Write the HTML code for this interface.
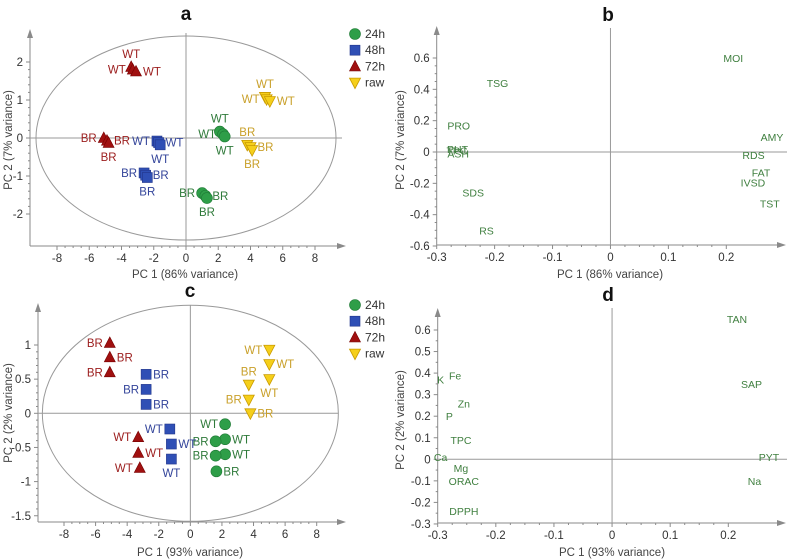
<!DOCTYPE html>
<html><head><meta charset="utf-8"><style>
body{margin:0;background:#fff;}
svg{display:block;font-family:"Liberation Sans",sans-serif;}
</style></head><body>
<svg id="fig" width="787" height="560"></svg>
<script>
// ---- Panel a: scores ----
const aGroups = ["24h","24h","24h","24h","24h","24h","48h","48h","48h","48h","48h","48h","72h","72h","72h","72h","72h","72h","raw","raw","raw","raw","raw","raw"];
const aX = [2.1,2.3,2.4,1.0,1.2,1.3,-1.8,-1.7,-1.6,-2.6,-2.5,-2.4,-3.4,-3.3,-3.1,-5.1,-4.9,-4.8,4.9,5.0,5.2,3.8,4.0,4.1];
const aY = [0.17,0.1,0.04,-1.45,-1.52,-1.58,-0.08,-0.12,-0.18,-0.92,-0.98,-1.04,1.87,1.8,1.75,0.0,-0.07,-0.13,1.08,1.02,0.97,-0.18,-0.24,-0.32];
const aLab = ["WT","WT","WT","BR","BR","BR","WT","WT","WT","BR","BR","BR","WT","WT","WT","BR","BR","BR","WT","WT","WT","BR","BR","BR"];
const aSide = ["t","l","b","l","r","b","l","r","b","l","r","b","t","l","r","l","r","b","t","l","r","t","r","b"];
// ---- Panel c: scores ----
const cGroups = ["24h","24h","24h","24h","24h","24h","48h","48h","48h","48h","48h","48h","72h","72h","72h","72h","72h","72h","raw","raw","raw","raw","raw","raw"];
const cX = [2.2,2.2,2.2,1.6,1.6,1.65,-2.8,-2.8,-2.8,-1.3,-1.2,-1.2,-5.1,-5.1,-5.1,-3.3,-3.3,-3.2,5.0,5.0,5.0,3.7,3.7,3.8];
const cY = [-0.16,-0.38,-0.6,-0.41,-0.62,-0.85,0.57,0.35,0.13,-0.23,-0.45,-0.67,1.03,0.82,0.6,-0.35,-0.58,-0.8,0.93,0.72,0.5,0.42,0.2,0.0];
const cLab = ["WT","WT","WT","BR","BR","BR","BR","BR","BR","WT","WT","WT","BR","BR","BR","WT","WT","WT","WT","WT","WT","BR","BR","BR"];
const cSide = ["l","r","r","l","l","r","r","l","r","l","r","b","l","r","l","l","r","l","l","r","b","t","l","r"];
// ---- Panel b: loadings ----
const bNames = ["MOI","TSG","PRO","PHT","TPC","ASH","AMY","RDS","FAT","IVSD","TST","SDS","RS"];
const bX = [0.212,-0.195,-0.262,-0.264,-0.265,-0.263,0.279,0.247,0.26,0.246,0.275,-0.237,-0.214];
const bY = [0.6,0.44,0.17,0.02,0.01,-0.01,0.097,-0.02,-0.13,-0.195,-0.33,-0.26,-0.5];
// ---- Panel d: loadings ----
const dNames = ["TAN","SAP","PYT","Na","K","Fe","Zn","P","TPC","Ca","Mg","ORAC","DPPH"];
const dX = [0.215,0.24,0.27,0.245,-0.295,-0.27,-0.255,-0.28,-0.26,-0.295,-0.26,-0.255,-0.255];
const dY = [0.65,0.35,0.01,-0.1,0.37,0.39,0.26,0.2,0.09,0.01,-0.04,-0.1,-0.24];
// ---- ticks ----
const scoreXTicks = [-8,-6,-4,-2,0,2,4,6,8];
const aYTicks = [-2,-1,0,1,2];
const cYTicks = [-1.5,-1,-0.5,0,0.5,1];
const loadXTicks = [-0.3,-0.2,-0.1,0,0.1,0.2];
const bYTicks = [-0.6,-0.4,-0.2,0,0.2,0.4,0.6];
const dYTicks = [-0.3,-0.2,-0.1,0,0.1,0.2,0.3,0.4,0.5,0.6];
const legendNames = ["24h","48h","72h","raw"];

const NS="http://www.w3.org/2000/svg";
const svg=document.getElementById('fig');
const fill={"24h":"#2e9e48","48h":"#2f4fb5","72h":"#a01010","raw":"#f5cf1a"};
const txtc={"24h":"#2f7a3a","48h":"#33449a","72h":"#9b1c1c","raw":"#c9a02a"};
function mk(tag,attrs,parent){const e=document.createElementNS(NS,tag);for(const k in attrs)e.setAttribute(k,attrs[k]);(parent||svg).appendChild(e);return e;}
function txt(s,x,y,attrs,parent){const t=mk('text',Object.assign({x:x,y:y},attrs),parent);t.textContent=s;return t;}

function marker(g,grp,x,y,parent){
  let m;
  if(grp==="24h") m=mk('circle',{cx:x,cy:y,r:5.5,fill:fill[grp],stroke:"#1f7a35","stroke-width":0.6},parent);
  else if(grp==="48h") m=mk('rect',{x:x-5,y:y-5,width:10,height:10,fill:fill[grp],stroke:"#22358a","stroke-width":0.6},parent);
  else if(grp==="72h") m=mk('polygon',{points:`${x},${y-6} ${x+5.5},${y+4.5} ${x-5.5},${y+4.5}`,fill:fill[grp],stroke:"#700","stroke-width":0.6},parent);
  else m=mk('polygon',{points:`${x-5.5},${y-4.5} ${x+5.5},${y-4.5} ${x},${y+6}`,fill:fill[grp],stroke:"#c99a00","stroke-width":0.8},parent);
  return m;
}

function axes(p,name){
  const g=mk('g',{});
  
  
  const col="#8a8a8a";
  // y axis
  mk('line',{x1:p.left,y1:p.bottom,x2:p.left,y2:p.top,stroke:col,"stroke-width":1},g);
  mk('polygon',{points:`${p.left},${p.top-4} ${p.left-3},${p.top+5} ${p.left+3},${p.top+5}`,fill:col},g);
  mk('line',{x1:p.left,y1:p.bottom,x2:p.right,y2:p.bottom,stroke:col,"stroke-width":1},g);
  mk('polygon',{points:`${p.right+4},${p.bottom} ${p.right-5},${p.bottom-3} ${p.right-5},${p.bottom+3}`,fill:col},g);
  // zero lines
  mk('line',{x1:p.left,y1:p.sy(0),x2:p.zeroRight,y2:p.sy(0),stroke:"#999","stroke-width":1},g);
  mk('line',{x1:p.sx(0),y1:p.zeroTop,x2:p.sx(0),y2:p.bottom,stroke:"#999","stroke-width":1},g);
  p.xt.forEach((v,i)=>{
    const x=p.sx(v);
    mk('line',{x1:x,y1:p.bottom,x2:x,y2:p.bottom+4,stroke:col},g);
    const t=txt(p.xfmt(v),x,p.bottom+16,{"font-size":11.5,fill:"#333","text-anchor":"middle"},g);
    
    
    if(i<p.xt.length-1){const st=(p.xt[i+1]-v)/p.xminor;for(let k=1;k<p.xminor;k++)mk('line',{x1:p.sx(v+st*k),y1:p.bottom,x2:p.sx(v+st*k),y2:p.bottom+2,stroke:col},g);}
  });
  p.yt.forEach((v,i)=>{
    const y=p.sy(v);
    mk('line',{x1:p.left-4,y1:y,x2:p.left,y2:y,stroke:col},g);
    const t=txt(String(v),p.left-7,y+4,{"font-size":11.5,fill:"#333","text-anchor":"end"},g);
    
    
    if(i<p.yt.length-1){const st=(p.yt[i+1]-v)/p.yminor;for(let k=1;k<p.yminor;k++)mk('line',{x1:p.left-2,y1:p.sy(v+st*k),x2:p.left,y2:p.sy(v+st*k),stroke:col},g);}
  });
  const xt=txt(p.xtitle,p.xtitleX,p.xtitleY,{"font-size":11.5,fill:"#444","text-anchor":"middle"});
  
  
  const yt=txt(p.ytitle,0,0,{"font-size":11.5,fill:"#444","text-anchor":"middle",transform:`translate(${p.ytitleX},${p.ytitleY}) rotate(-90)`});
  
  
  const ti=txt(p.title,p.titleX,p.titleY,{"font-size":19,"font-weight":"bold",fill:"#111","text-anchor":"middle"});
  
  
}

function scorePanel(p,name,groups,xs,ys,labs,sides,ell){
  axes(p,name);
  const e=mk('ellipse',{cx:p.sx(0),cy:p.sy(0),rx:ell.rx,ry:ell.ry,fill:"none",stroke:"#999","stroke-width":1});
  
  
  const g=mk('g',{});
  
  
  xs.forEach((v,i)=>{
    const x=p.sx(v),y=p.sy(ys[i]);
    const m=marker(g,groups[i],x,y,g);
    
    
    const s=sides[i];let tx=x,ty=y+4,anc="middle";
    if(s==="l"){tx=x-7;anc="end";}else if(s==="r"){tx=x+7;anc="start";}else if(s==="t"){ty=y-9;}else{ty=y+18;}
    const t=txt(labs[i],tx,ty,{"font-size":11.5,fill:txtc[groups[i]],"text-anchor":anc},g);
    
    
  });
  const lg=mk('g',{});
  
  
  legendNames.forEach((n,i)=>{
    const y=p.legY+i*16.2;
    const m=marker(lg,n,p.legX,y,lg);
    
    
    const t=txt(n,p.legX+10,y+4,{"font-size":12,fill:"#333"},lg);
    
    
  });
}
function loadPanel(p,name,names,xs,ys){
  axes(p,name);
  const g=mk('g',{});
  
  
  names.forEach((n,i)=>{
    const t=txt(n,p.sx(xs[i]),p.sy(ys[i])+4,{"font-size":10.5,fill:"#3f7f3f","text-anchor":"middle"},g);
    
    
  });
}
function lin(d0,d1,p0,p1){return v=>p0+(v-d0)*(p1-p0)/(d1-d0);}

scorePanel({sx:lin(-8,8,57,315),sy:lin(0,2,138,62),left:30,bottom:246,top:33,right:342,zeroRight:342,zeroTop:33,
  xt:scoreXTicks,yt:aYTicks,xminor:4,yminor:5,xfmt:v=>String(v),
  xtitle:"PC 1 (86% variance)",xtitleX:185,xtitleY:278,ytitle:"PC 2 (7% variance)",ytitleX:12,ytitleY:140,
  title:"a",titleX:186,titleY:20,legX:355,legY:34},"panel-a",aGroups,aX,aY,aLab,aSide,{rx:150,ry:102});
loadPanel({sx:lin(-0.3,0.2,436.7,726.3),sy:lin(0,0.6,152,58),left:436.7,bottom:245,top:30,right:782,zeroRight:787,zeroTop:28,
  xt:loadXTicks,yt:bYTicks,xminor:4,yminor:4,xfmt:v=>String(+v.toFixed(1)),
  xtitle:"PC 1 (86% variance)",xtitleX:610,xtitleY:278,ytitle:"PC 2 (7% variance)",ytitleX:404,ytitleY:140,
  title:"b",titleX:608,titleY:21},"panel-b",bNames,bX,bY);
scorePanel({sx:lin(-8,8,64,316.7),sy:lin(0,1,413.3,345),left:38,bottom:522,top:307,right:342,zeroRight:338,zeroTop:305,
  xt:scoreXTicks,yt:cYTicks,xminor:4,yminor:5,xfmt:v=>String(v),
  xtitle:"PC 1 (93% variance)",xtitleX:190,xtitleY:556,ytitle:"PC 2 (2% variance)",ytitleX:12,ytitleY:413,
  title:"c",titleX:190,titleY:297,legX:355,legY:305},"panel-c",cGroups,cX,cY,cLab,cSide,{rx:148,ry:108});
loadPanel({sx:lin(-0.3,0.2,437.7,728.3),sy:lin(0,0.6,459.3,330),left:437.7,bottom:523,top:312,right:782,zeroRight:787,zeroTop:308,
  xt:loadXTicks,yt:dYTicks,xminor:4,yminor:2,xfmt:v=>String(+v.toFixed(1)),
  xtitle:"PC 1 (93% variance)",xtitleX:612,xtitleY:556,ytitle:"PC 2 (2% variance)",ytitleX:404,ytitleY:420,
  title:"d",titleX:608,titleY:301},"panel-d",dNames,dX,dY);
</script>
</body></html>
